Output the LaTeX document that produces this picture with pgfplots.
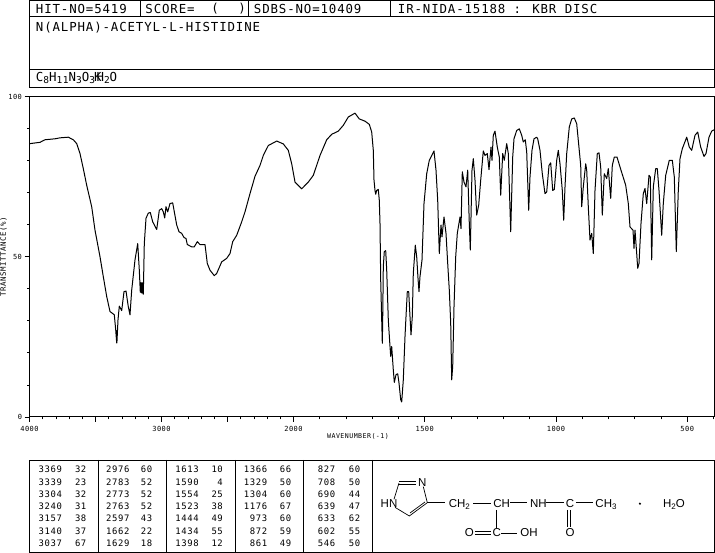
\documentclass[border=0pt]{standalone}
\usepackage{fontspec}
\usepackage{pgfplots}
\pgfplotsset{compat=1.18}
\setmainfont{Liberation Sans}
\newfontfamily\vf[LetterSpace=7]{DejaVu Sans Mono}
\newcommand\hdr{\vf\fontsize{12.4}{14}\selectfont}
\newcommand\sm{\vf\fontsize{7}{8}\selectfont}
\newcommand\tb{\vf\fontsize{8.9}{11}\selectfont}
\newcommand\st{\fontsize{11.5}{12}\selectfont}
\newcommand\sub[1]{\raisebox{-2.5pt}{\vf\fontsize{9.5}{10}\selectfont #1}}
% position along the chart (the wavenumber scale changes at 2000), transmittance in percent
\begin{document}
\begin{tikzpicture}
\path[use as bounding box,fill=white] (0pt,0pt) rectangle (715pt,553pt);
\begin{axis}[
  at={(29.5pt,136pt)},anchor=south west,scale only axis,
  width=684.5pt,height=320.5pt,
  xmin=29.5,xmax=714,ymin=0,ymax=100,
  axis line style={line width=1pt},
  tick align=outside,tick pos=left,
  xtick={29.5,95.5,161.5,227.5,293.5,424.75,556,687.25},
  xticklabels={4000,,3000,,2000,1500,1000,500},
  minor xtick={42.7,55.9,69.1,82.3,108.7,121.9,135.1,148.3,174.7,187.9,201.1,214.3,240.7,253.9,267.1,280.3,319.75,346,372.25,398.5,451,477.25,503.5,529.75,582.25,608.5,634.75,661,713.5},
  ytick={0,50,100},yticklabels={0,50,100},
  minor ytick={10,20,30,40,60,70,80,90},
  major tick length=5pt,minor tick length=2.5pt,
  tick style={black,line width=0.8pt},
  tick label style={font=\sm},
  xticklabel style={yshift=-1pt},
  yticklabel style={xshift=1pt},
  /pgf/number format/assume math mode=true,
  clip=false,
]
\addplot[black,line width=1pt,line join=round] table[row sep=\\] {
x y\\
30 85.3\\ 40 85.7\\ 45 86.5\\ 55 86.8\\ 60 87.1\\ 68.3 87.3\\ 73.3 86.5\\ 76.7 85.3\\ 80 82.2\\ 83.3 77.5\\
86.7 72.3\\ 91.7 65.6\\ 95 58.3\\ 100 50\\ 103.3 43.8\\ 106.7 37.6\\ 110 32.9\\ 114.3 31.9\\ 115.7 27.2\\ 116.7 23.1\\
117 27\\ 116.9 23.1\\ 118 30.3\\ 119.3 34.6\\ 121.7 33.2\\ 124 39.1\\ 126 39.3\\ 128.3 34.4\\ 130 31.9\\ 130.3 34\\ 130 31.9\\ 131.7 39.6\\ 135 49\\ 137.7 54.1\\ 139.3 45.9\\
140.3 38.9\\ 141 41.9\\ 141.7 38.7\\ 142.3 41.9\\ 142.9 38.6\\ 143.3 38.3\\ 144.3 54.1\\ 146 62\\ 148.3 63.6\\ 150.3 63.8\\ 152.7 60.9\\ 156.7 58.5\\ 159.3 64.5\\ 161.7 65\\ 163.3 64\\ 164.7 62.1\\
166 65.6\\ 167.7 64\\ 170 66.6\\ 172.7 66.8\\ 176.7 59.9\\ 179 57.8\\ 181.7 57.3\\ 184 56\\ 186 55.7\\ 187.3 53.8\\
191.7 53.1\\ 194.3 53.1\\ 197.3 54.7\\ 200 53.8\\ 205 53.8\\ 207.3 47.9\\ 210 45.8\\ 214.3 44.1\\ 216.7 44.8\\ 221.7 48.4\\
226.7 49.5\\ 230 51\\ 232.7 54.7\\ 236.7 56.7\\ 241.7 60.9\\ 245 64\\ 250 69.7\\ 255 75.1\\ 260 78.5\\ 263.3 81.6\\
268.3 84.7\\ 276.7 86.1\\ 283.3 85.2\\ 288.3 83.2\\ 291.7 79\\ 295 73.3\\ 301.7 71.2\\ 308.3 73.3\\ 313.3 75.4\\ 320 81.6\\
326.7 86.5\\ 331.7 88.2\\ 338.3 89.2\\ 343.3 91\\ 348.3 93.6\\ 355 94.8\\ 359.3 93\\
365 92.3\\ 369.3 91.3\\ 371.7 88.9\\ 373.3 83.2\\ 374 73.9\\ 375 70.7\\ 375.7 69.5\\ 376.7 70.7\\ 378.3 71\\ 379.3 67.6\\
380 60.4\\ 380.7 42.7\\ 381.7 30.3\\ 382.3 23\\ 382.7 30.3\\ 383.3 46.9\\ 384.3 51.6\\ 385.7 51.9\\ 386.7 45.9\\ 388.3 30.3\\
390 22\\ 390.7 18.9\\ 391.7 22\\ 393.3 14.7\\ 394.3 10.8\\ 396 13.2\\ 397.7 13.5\\ 399 10.6\\ 400.7 5.4\\ 401.7 4.7\\
403.3 11.6\\ 405 25.1\\ 406 31.3\\ 407.3 39.1\\ 408.7 39.1\\ 410 31.3\\ 411 25.6\\ 412.3 31.3\\ 413.3 44.8\\ 415.3 53.6\\
416.7 50\\ 418 43.3\\ 419 39.1\\ 420 43.8\\ 422 49\\ 424 66.6\\ 426.7 75.9\\ 429.3 80.1\\ 434 83\\ 436 77\\
437.7 67.6\\ 439.3 51\\ 441 59.9\\ 442 56.2\\ 444 62.4\\ 446 57.3\\ 447.7 47.9\\ 449.3 39.6\\ 450.7 29.3\\ 451.7 11.6\\
452.7 15.8\\ 454 34.4\\ 455.7 50\\ 457.3 57.3\\ 460 62.4\\ 461 58.8\\ 462.3 76.5\\ 464 73.3\\ 466 71.8\\ 467.7 77\\
469.3 60.4\\ 470.3 52.1\\ 472 77\\ 473.3 80.6\\ 475 73.9\\ 476.7 63\\ 478.7 66.1\\ 480.7 73.9\\ 483.3 83\\ 485 81.6\\
487.3 82.2\\ 489 77.2\\ 491 84.2\\ 492 80.1\\ 493.3 87.9\\ 495 89.2\\ 497.3 84.2\\ 499.3 81.1\\ 500.7 69.2\\ 502.7 82.2\\
504.3 80.1\\ 506.7 85.3\\ 508.3 82.2\\ 510.7 57.8\\ 512.7 81.1\\ 514 86.8\\ 516.7 89.4\\ 519.3 89.9\\ 521.7 87.9\\ 523.3 85.8\\
525.3 86.5\\ 526.7 82.7\\ 528.7 64.5\\ 530 74.9\\ 532 83.2\\ 534 86.8\\ 536.7 87.3\\ 537.7 86.8\\ 540 83.2\\ 542.3 75.9\\
545 69.7\\ 546.7 70.2\\ 549 78.5\\ 550.7 79.3\\ 552.7 70.7\\ 554.3 71\\ 556.7 80.1\\ 558.3 83.2\\ 560 79\\ 562.3 70.7\\
563.7 61.4\\ 565 71.8\\ 566.7 82.2\\ 569.3 90.5\\ 571.7 93\\ 574.3 93.3\\ 576.7 91.5\\ 578.3 86.3\\ 580.7 78.5\\ 581.7 65.6\\
583.3 71.8\\ 585.7 79\\ 586.7 77\\ 588.3 65.6\\ 590 55.2\\ 591.7 57.3\\ 593.3 51\\ 595 70.7\\ 597.3 82.2\\ 599 82.4\\
600.7 78\\ 602.3 63\\ 604.3 75.9\\ 606.7 74.4\\ 608.3 77.5\\ 610.7 68.2\\ 612.3 78.5\\ 614.3 81.1\\ 617 81.1\\ 621 77\\
625.7 72.3\\ 628.3 66.6\\ 630 59.3\\ 633 58.3\\ 634 52.6\\ 635 58.3\\ 636.7 51\\ 637.7 46.4\\ 639 47.9\\ 641 60.4\\
643.3 69.7\\ 645 71.3\\ 646.7 66.6\\ 649 75.4\\ 650.3 74.9\\ 651.7 49\\ 653.3 71.8\\ 655.7 77.5\\ 657.3 77.5\\ 659 70.7\\
661.7 56.7\\ 663.3 66.6\\ 665.7 75.4\\ 669.3 80.1\\ 672.3 80.1\\ 674.3 74.9\\ 676.3 51.6\\ 678.3 70.7\\ 680 80.6\\ 682.3 83.7\\
686.7 87.3\\ 689.3 84.2\\ 691.7 83.2\\ 695 87.9\\ 697.7 88.9\\ 700.7 84.2\\ 704 81.3\\ 706 82.2\\ 709 87.3\\ 711.7 89.2\\ 714 89.6\\
};
\end{axis}
\begin{scope}[shift={(0pt,553pt)},x=1pt,y=-1pt,line width=0.9pt]
  % header
  \draw (29.5,0.5) rectangle (714,87.5);
  \draw (29.5,16.7)--(714,16.7) (29.5,69.3)--(714,69.3);
  \draw (140.4,0.5)--(140.4,16.7) (248.5,0.5)--(248.5,16.7) (390.8,0.5)--(390.8,16.7);
  \tikzset{h/.style={anchor=west,inner sep=0pt,font=\hdr}}
  \node[h] at (35.5,9) {HIT-NO=5419};
  \node[h] at (145,9) {SCORE=};
  \node[h] at (211,9) {(};
  \node[h] at (238,9) {)};
  \node[h] at (253.5,9) {SDBS-NO=10409};
  \node[h] at (397.5,9) {IR-NIDA-15188 : KBR DISC};
  \node[h] at (35.5,27.3) {N(ALPHA)-ACETYL-L-HISTIDINE};
  \node[h] at (35.5,78) {C\sub{8}H\sub{11}N\sub{3}O\sub{3}\kern-1pt K\kern-5pt H\sub{2}O};
  % axis titles
  \node[font=\vf\fontsize{6.6}{8}\selectfont,inner sep=0pt] at (358,436.7) {WAVENUMBER(-1)};
  \node[font=\vf\fontsize{7.4}{9}\selectfont,inner sep=0pt,rotate=90] at (3.5,256.7) {TRANSMITTANCE(\%)};
  % peak table
  \draw (29.3,460) rectangle (714,552.3);
  \foreach \x in {98.7,166.3,235.7,303.3,372.7} \draw (\x,460)--(\x,552.3);
  \tikzset{t/.style={anchor=east,inner sep=0pt,font=\tb}}
  \foreach \a/\b/\y in {3369/32/469.7,3339/23/482,3304/32/494.3,3240/31/506.3,3157/38/518.7,3140/37/531.3,3037/67/543.7}
    {\node[t] at (62.5,\y) {\a}; \node[t] at (86.8,\y) {\b};}
  \foreach \a/\b/\y in {2976/60/469.7,2783/52/482,2773/52/494.3,2763/52/506.3,2597/43/518.7,1662/22/531.3,1629/18/543.7}
    {\node[t] at (130,\y) {\a}; \node[t] at (152.7,\y) {\b};}
  \foreach \a/\b/\y in {1613/10/469.7,1590/4/482,1554/25/494.3,1523/38/506.3,1444/49/518.7,1434/55/531.3,1398/12/543.7}
    {\node[t] at (199.2,\y) {\a}; \node[t] at (223.3,\y) {\b};}
  \foreach \a/\b/\y in {1366/66/469.7,1329/50/482,1304/60/494.3,1176/67/506.3,973/60/518.7,872/59/531.3,861/49/543.7}
    {\node[t] at (267.7,\y) {\a}; \node[t] at (291.7,\y) {\b};}
  \foreach \a/\b/\y in {827/60/469.7,708/50/482,690/44/494.3,639/47/506.3,633/62/518.7,602/55/531.3,546/50/543.7}
    {\node[t] at (335.7,\y) {\a}; \node[t] at (360.7,\y) {\b};}
  % structure
  \begin{scope}[shift={(370,455)},x=0.3333pt,y=-0.3333pt,line width=0.7pt]
    \draw (87,80)--(137,80) (87,88)--(137,88);
    \draw (87,84)--(72,133) (75,157)--(118,183)--(172,143)--(160,95);
    \draw (120,174)--(165,141);
    \draw (172,143)--(225,143) (310,146)--(362,146) (420,143)--(472,143) (528,143)--(582,143) (618,143)--(668,143);
    \draw (378,165)--(378,218) (315,230)--(362,230) (315,238)--(362,238) (393,234)--(440,234);
    \draw (592,165)--(592,215) (602,165)--(602,215);
    \tikzset{a/.style={inner sep=0pt,font=\st}}
    \node[a] at (157,82) {N};
    \node[a] at (57,146) {HN};
    \node[a] at (268,148) {CH\raisebox{-2pt}{\fontsize{8}{8}\selectfont 2}};
    \node[a] at (395,146) {CH};
    \node[a] at (505,146) {NH};
    \node[a] at (600,146) {C};
    \node[a] at (708,148) {CH\raisebox{-2pt}{\fontsize{8}{8}\selectfont 3}};
    \fill (810,146) circle (3.5);
    \node[a] at (912,148) {H\raisebox{-2pt}{\fontsize{8}{8}\selectfont 2}O};
    \node[a] at (380,234) {C};
    \node[a] at (298,234) {O};
    \node[a] at (477,234) {OH};
    \node[a] at (600,234) {O};
  \end{scope}
\end{scope}
\end{tikzpicture}
\end{document}
